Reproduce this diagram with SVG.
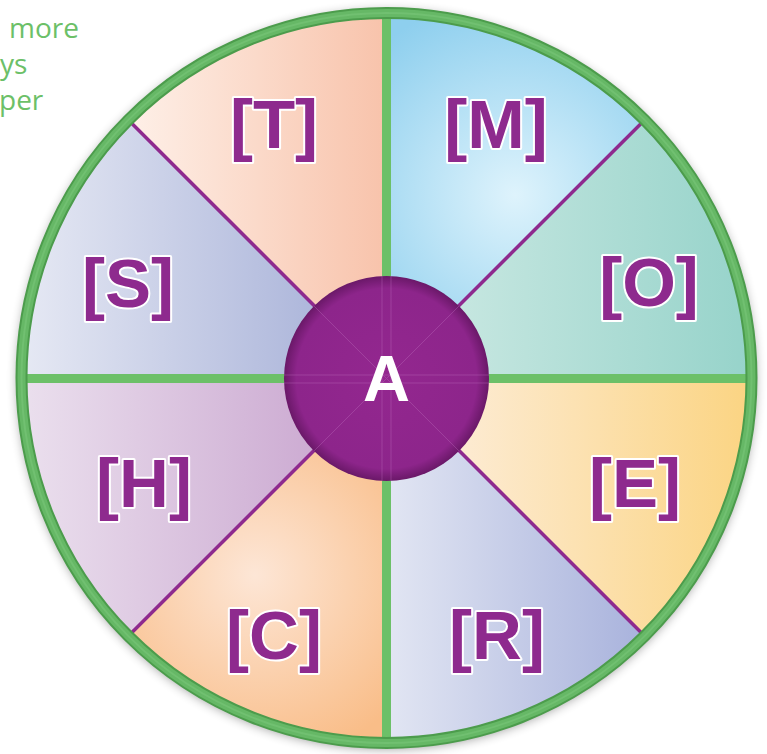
<svg xmlns="http://www.w3.org/2000/svg" width="767" height="754" viewBox="0 0 767 754">
<defs>
<style>
.lbl{font-family:"Liberation Sans",Arial,sans-serif;font-weight:bold;font-size:69px;fill:#8e2a8e;stroke:#ffffff;stroke-width:4;paint-order:stroke;stroke-linejoin:round;text-anchor:middle}
.side{font-family:"Open Sans","Liberation Sans",sans-serif;font-size:28px;fill:#6cc068}
.div{stroke:#6cc068;stroke-width:9;fill:none}
.diag{stroke:#8e2a8e;stroke-width:3.5;fill:none}
</style>
<filter id="sh" x="-10%" y="-10%" width="120%" height="120%"><feGaussianBlur stdDeviation="6"/></filter>
<linearGradient id="gT" gradientUnits="userSpaceOnUse" x1="128" y1="0" x2="386" y2="0"><stop offset="0" stop-color="#fef0e8"/><stop offset="1" stop-color="#f8c3ab"/></linearGradient>
<radialGradient id="gM" gradientUnits="userSpaceOnUse" cx="515" cy="195" r="200"><stop offset="0" stop-color="#def3fc"/><stop offset="1" stop-color="#8ecfee"/></radialGradient>
<linearGradient id="gO" gradientUnits="userSpaceOnUse" x1="420" y1="0" x2="752" y2="0"><stop offset="0" stop-color="#cce9e3"/><stop offset="1" stop-color="#96d3ca"/></linearGradient>
<linearGradient id="gE" gradientUnits="userSpaceOnUse" x1="420" y1="0" x2="752" y2="0"><stop offset="0" stop-color="#fdeedd"/><stop offset="1" stop-color="#fbd482"/></linearGradient>
<linearGradient id="gR" gradientUnits="userSpaceOnUse" x1="386" y1="0" x2="645" y2="0"><stop offset="0" stop-color="#e2e6f3"/><stop offset="1" stop-color="#a8b2dc"/></linearGradient>
<radialGradient id="gC" gradientUnits="userSpaceOnUse" cx="255" cy="575" r="190"><stop offset="0" stop-color="#fde6d6"/><stop offset="1" stop-color="#f9bd88"/></radialGradient>
<linearGradient id="gH" gradientUnits="userSpaceOnUse" x1="21" y1="0" x2="350" y2="0"><stop offset="0" stop-color="#ebe0ee"/><stop offset="1" stop-color="#c9a5cf"/></linearGradient>
<linearGradient id="gS" gradientUnits="userSpaceOnUse" x1="21" y1="0" x2="350" y2="0"><stop offset="0" stop-color="#e6e9f4"/><stop offset="1" stop-color="#a7b1d8"/></linearGradient>
<radialGradient id="gA" cx="0.5" cy="0.5" r="0.5"><stop offset="0" stop-color="#93278f"/><stop offset="0.88" stop-color="#8d258b"/><stop offset="1" stop-color="#6a1868"/></radialGradient>
</defs>
<rect width="767" height="754" fill="#ffffff"/>
<text class="side" x="9" y="38">more</text>
<text class="side" x="0" y="74">ys</text>
<text class="side" x="-1" y="110">per</text>
<circle cx="386.5" cy="380" r="368" fill="#000" opacity="0.45" filter="url(#sh)"/>
<g id="node-T"><path d="M386.5 378 L128.4 119.9 A365 365 0 0 1 386.5 13 Z" fill="url(#gT)"/><text class="lbl" x="274" y="148">[T]</text></g>
<g id="node-M"><path d="M386.5 378 L386.5 13 A365 365 0 0 1 644.6 119.9 Z" fill="url(#gM)"/><text class="lbl" x="496" y="148">[M]</text></g>
<g id="node-O"><path d="M386.5 378 L644.6 119.9 A365 365 0 0 1 751.5 378 Z" fill="url(#gO)"/><text class="lbl" x="649" y="306">[O]</text></g>
<g id="node-E"><path d="M386.5 378 L751.5 378 A365 365 0 0 1 644.6 636.1 Z" fill="url(#gE)"/><text class="lbl" x="635" y="507">[E]</text></g>
<g id="node-R"><path d="M386.5 378 L644.6 636.1 A365 365 0 0 1 386.5 743 Z" fill="url(#gR)"/><text class="lbl" x="497" y="659">[R]</text></g>
<g id="node-C"><path d="M386.5 378 L386.5 743 A365 365 0 0 1 128.4 636.1 Z" fill="url(#gC)"/><text class="lbl" x="274" y="659">[C]</text></g>
<g id="node-H"><path d="M386.5 378 L128.4 636.1 A365 365 0 0 1 21.5 378 Z" fill="url(#gH)"/><text class="lbl" x="144" y="507">[H]</text></g>
<g id="node-S"><path d="M386.5 378 L21.5 378 A365 365 0 0 1 128.4 119.9 Z" fill="url(#gS)"/><text class="lbl" x="128" y="307">[S]</text></g>
<g id="connectors">
<line class="diag" x1="386.5" y1="378" x2="128.4" y2="119.9"/>
<line class="diag" x1="386.5" y1="378" x2="644.6" y2="119.9"/>
<line class="diag" x1="386.5" y1="378" x2="644.6" y2="636.1"/>
<line class="diag" x1="386.5" y1="378" x2="128.4" y2="636.1"/>
<line class="div" x1="21.5" y1="378.5" x2="751.5" y2="378.5"/>
<line class="div" x1="386.5" y1="13" x2="386.5" y2="743"/>
</g>
<g id="ring">
<circle cx="386.5" cy="378" r="365" fill="none" stroke="#4c9c4c" stroke-width="12"/>
<circle cx="386.5" cy="378" r="365" fill="none" stroke="#66b866" stroke-width="8"/>
<circle cx="386.5" cy="378" r="365" fill="none" stroke="#78c478" stroke-width="2" opacity="0.6"/>
</g>
<g id="node-A">
<circle cx="386.5" cy="378.5" r="102.5" fill="url(#gA)"/>
<g stroke="#c070c0" stroke-width="1" opacity="0.35">
<line x1="284" y1="375" x2="489" y2="375"/>
<line x1="284" y1="383" x2="489" y2="383"/>
<line x1="382" y1="276" x2="382" y2="481"/>
<line x1="391" y1="276" x2="391" y2="481"/>
<line x1="314" y1="306" x2="459" y2="451"/>
<line x1="459" y1="306" x2="314" y2="451"/>
</g>
<text x="386.5" y="401" font-family="Liberation Sans,Arial,sans-serif" font-weight="bold" font-size="65" fill="#ffffff" text-anchor="middle">A</text>
</g>
</svg>
